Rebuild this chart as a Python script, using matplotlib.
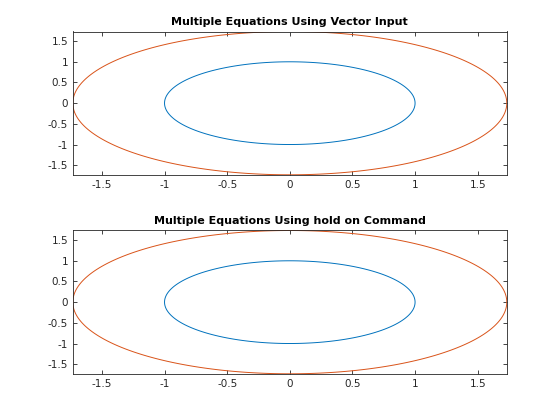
import numpy as np
import matplotlib.pyplot as plt

# implicit curves x^2 + y^2 = c
levels = [1, 3]
colors = ['#0072BD', '#D95319']
titles = ['Multiple Equations Using Vector Input',
          'Multiple Equations Using hold on Command']
xticks = [-1.5, -1, -0.5, 0, 0.5, 1, 1.5]
yticks = [-1.5, -1, -0.5, 0, 0.5, 1, 1.5]
tick_labels = ['-1.5', '-1', '-0.5', '0', '0.5', '1', '1.5']
lim = np.sqrt(3)

plt.rcParams['font.family'] = ['DejaVu Sans']

fig = plt.figure(figsize=(5.6, 4.2), dpi=100)
positions = [[0.13, 0.5838, 0.775, 0.3412], [0.13, 0.11, 0.775, 0.3412]]

g = np.linspace(-lim - 0.05, lim + 0.05, 121)
X, Y = np.meshgrid(g, g)
F = X**2 + Y**2

for pos, title in zip(positions, titles):
    ax = fig.add_axes(pos)
    for lev, c in zip(levels, colors):
        ax.contour(X, Y, F, levels=[lev], colors=[c], linewidths=0.7)
    ax.set_xlim(-lim, lim)
    ax.set_ylim(-lim, lim)
    ax.set_xticks(xticks)
    ax.set_yticks(yticks)
    ax.set_xticklabels(tick_labels)
    ax.set_yticklabels(tick_labels)
    ax.tick_params(direction='in', top=True, right=True, length=3,
                   labelsize=7.5, colors='#262626', width=0.6)
    for s in ax.spines.values():
        s.set_color('#262626')
        s.set_linewidth(0.6)
    ax.set_title(title, fontsize=8, fontweight='bold', pad=5)

fig.savefig('out.png', dpi=100)
